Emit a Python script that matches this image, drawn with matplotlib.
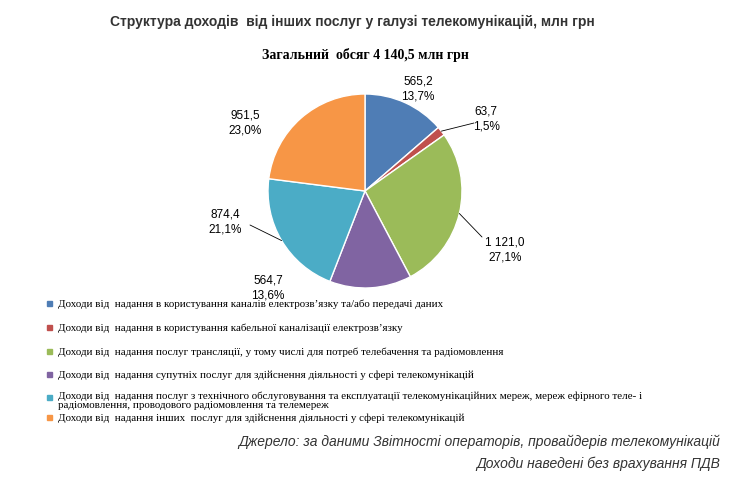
import matplotlib
matplotlib.use("Agg")
import matplotlib.pyplot as plt
import numpy as np
from matplotlib.patches import Rectangle

values = [565.2, 63.7, 1121.0, 564.7, 874.4, 951.5]
value_labels = ["565,2", "63,7", "1 121,0", "564,7", "874,4", "951,5"]
pct_labels = ["13,7%", "1,5%", "27,1%", "13,6%", "21,1%", "23,0%"]
legend_labels = [
    "Доходи від  надання в користування каналів електрозв’язку та/або передачі даних",
    "Доходи від  надання в користування кабельної каналізації електрозв’язку",
    "Доходи від  надання послуг трансляції, у тому числі для потреб телебачення та радіомовлення",
    "Доходи від  надання супутніх послуг для здійснення діяльності у сфері телекомунікацій",
    "Доходи від  надання послуг з технічного обслуговування та експлуатації телекомунікаційних мереж, мереж ефірного теле- і\nрадіомовлення, проводового радіомовлення та телемереж",
    "Доходи від  надання інших  послуг для здійснення діяльності у сфері телекомунікацій",
]
colors = ["#4F7DB5", "#C0504D", "#9BBB59", "#8064A2", "#4BACC6", "#F79646"]

W, H = 729, 485
fig = plt.figure(figsize=(W/100, H/100), dpi=100)
cx, cy, r = 365, 192, 97
ax = fig.add_axes([(cx-r)/W, 1-(cy+r)/H, 2*r/W, 2*r/H])
wedges, _ = ax.pie(values, colors=colors, startangle=90, counterclock=False,
                   wedgeprops=dict(edgecolor="white", linewidth=1))
ax.set_aspect("equal")
ax.set_xlim(-1, 1); ax.set_ylim(-1, 1)

fig.text(352/W, 1-22/H, "Структура доходів  від інших послуг у галузі телекомунікацій, млн грн",
         ha="center", va="center", fontsize=10, fontweight="bold", color="#333333",
         family="Liberation Sans")
fig.text(365/W, 1-55/H, "Загальний  обсяг 4 140,5 млн грн", ha="center", va="center",
         fontsize=10, fontweight="bold", family="Liberation Serif")

label_pos = [(418, 89), (486, 119), (505, 250), (268, 288), (225, 222), (245, 123)]
leader = [None, (474, 124), (482, 238), None, (250, 226), None]
for w, vl, pl, (lx, ly), ld in zip(wedges, value_labels, pct_labels, label_pos, leader):
    ang = np.deg2rad((w.theta1 + w.theta2) / 2)
    ex, ey = np.cos(ang), np.sin(ang)
    fig.text(lx/W, 1-ly/H, vl + "\n" + pl, ha="center", va="center", fontsize=8.5,
             family="Liberation Sans", linespacing=1.4)
    if ld:
        ax.annotate("", xy=(ex, ey), xytext=(ld[0], H-ld[1]), textcoords="figure pixels",
                    arrowprops=dict(arrowstyle="-", color="black", lw=0.6, shrinkA=0, shrinkB=0))

ys = [304, 328, 352, 375, 398, 418]
for c, lab, y in zip(colors, legend_labels, ys):
    fig.patches.append(Rectangle((47/W, 1-(y+3)/H), 5/W, 5/H, color=c,
                                 transform=fig.transFigure, figure=fig))
    if "\n" in lab:
        fig.text(58/W, 1-(y-6)/H, lab, ha="left", va="top", fontsize=7.9,
                 family="Liberation Serif", linespacing=1.0)
    else:
        fig.text(58/W, 1-y/H, lab, ha="left", va="center", fontsize=7.9,
                 family="Liberation Serif")

fig.text(720/W, 1-442/H, "Джерело: за даними Звітності операторів, провайдерів телекомунікацій",
         ha="right", va="center", fontsize=10, style="italic", color="#333333", family="Liberation Sans")
fig.text(720/W, 1-464/H, "Доходи наведені без врахування ПДВ",
         ha="right", va="center", fontsize=10, style="italic", color="#333333", family="Liberation Sans")

fig.savefig("out.png", dpi=100)
